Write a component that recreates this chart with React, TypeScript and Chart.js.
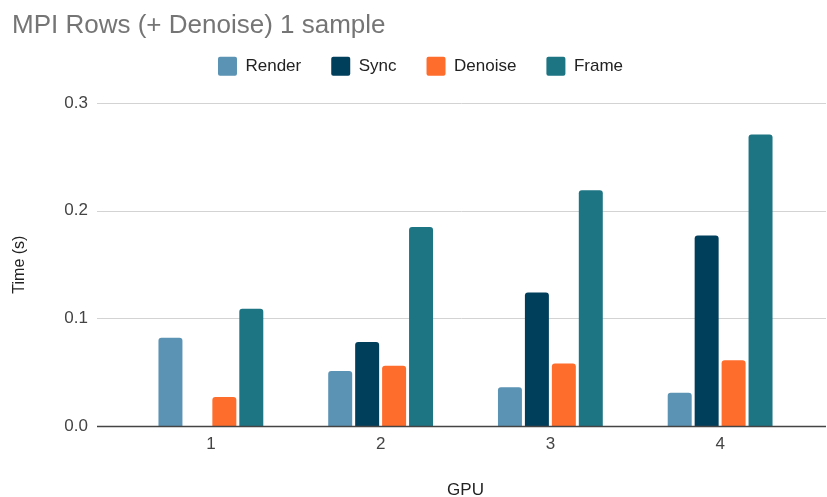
import React, { useEffect, useRef } from "react";
import { Chart, registerables } from "chart.js";

Chart.register(...registerables);

// ---- data ----
const categories = ["1", "2", "3", "4"];
const renderTimes = [0.082, 0.051, 0.036, 0.031];
const syncTimes = [null, 0.078, 0.124, 0.177];
const denoiseTimes = [0.027, 0.056, 0.058, 0.061];
const frameTimes = [0.109, 0.185, 0.219, 0.271];
const seriesNames = ["Render", "Sync", "Denoise", "Frame"];
const seriesColors = ["#5b93b4", "#003f5c", "#ff6d2c", "#1d7584"];
const yTickValues = [0, 0.1, 0.2, 0.3];
const yTickLabels = ["0.0", "0.1", "0.2", "0.3"];
const chartTitle = "MPI Rows (+ Denoise) 1 sample";
const xAxisTitle = "GPU";
const yAxisTitle = "Time (s)";

const FONT = 'Arial, "Liberation Sans", sans-serif';

// gridlines extended slightly beyond the plot area, baseline drawn over bars
const extendedGrid = {
  id: "extendedGrid",
  beforeDatasetsDraw(chart: any) {
    const { ctx, chartArea, scales } = chart;
    const y = scales.y;
    ctx.save();
    ctx.lineWidth = 1;
    ctx.strokeStyle = "#d3d3d3";
    y.ticks.forEach((t: any) => {
      if (t.value === 0) return;
      const py = Math.round(y.getPixelForValue(t.value)) + 0.5;
      ctx.beginPath();
      ctx.moveTo(chartArea.left - 29, py);
      ctx.lineTo(chartArea.right + 21, py);
      ctx.stroke();
    });
    ctx.restore();
  },
  afterDatasetsDraw(chart: any) {
    const { ctx, chartArea, scales } = chart;
    const y = scales.y;
    const py = Math.round(y.getPixelForValue(0)) + 0.5;
    ctx.save();
    ctx.lineWidth = 1.3;
    ctx.strokeStyle = "#444444";
    ctx.beginPath();
    ctx.moveTo(chartArea.left - 29, py);
    ctx.lineTo(chartArea.right + 21, py);
    ctx.stroke();
    ctx.restore();
  },
};

// shift the legend to its place in the reference
const legendShift = {
  id: "legendShift",
  afterLayout(chart: any) {
    const lg = chart.legend;
    if (!lg) return;
    lg.left += 12;
    lg.right += 12;
    lg.top -= 17.5;
    lg.bottom -= 17.5;
  },
};

export default function App() {
  const ref = useRef<HTMLCanvasElement | null>(null);

  useEffect(() => {
    if (!ref.current) return;
    const series = [renderTimes, syncTimes, denoiseTimes, frameTimes];
    const chart = new Chart(ref.current, {
      type: "bar",
      data: {
        labels: categories,
        datasets: series.map((d, i) => ({
          label: seriesNames[i],
          data: d as any,
          backgroundColor: seriesColors[i],
          borderRadius: 3,
          borderSkipped: "start",
          categoryPercentage: 0.635,
          barPercentage: 0.89,
        })),
      },
      options: {
        responsive: false,
        animation: false,
        layout: { padding: { left: 12, right: 22, top: 0, bottom: -2 } },
        plugins: {
          title: {
            display: true,
            text: chartTitle,
            align: "start",
            color: "#757575",
            font: { family: FONT, size: 26, weight: "normal", lineHeight: 1.2 },
            padding: { top: 10, bottom: 3 },
          },
          legend: {
            display: true,
            position: "top",
            align: "center",
            labels: {
              boxWidth: 19,
              boxHeight: 19,
              padding: 30,
              color: "#222222",
              useBorderRadius: true,
              borderRadius: 2,
              font: { family: FONT, size: 17 },
            },
          },
          tooltip: { enabled: false },
        },
        scales: {
          x: {
            grid: { display: false, drawTicks: false },
            border: { display: false },
            ticks: {
              color: "#444444",
              padding: 8,
              font: { family: FONT, size: 17 },
            },
            title: {
              display: true,
              text: xAxisTitle,
              color: "#222222",
              font: { family: FONT, size: 17, lineHeight: 1 },
              padding: 0,
            },
            afterFit(scale: any) {
              scale.height = 73;
            },
          },
          y: {
            min: 0,
            max: 0.3,
            grid: { display: false, drawTicks: false },
            border: { display: false },
            afterBuildTicks(scale: any) {
              scale.ticks = yTickValues.map((v) => ({ value: v }));
            },
            ticks: {
              color: "#444444",
              padding: 38,
              font: { family: FONT, size: 17 },
              callback: (v: any) => {
                const i = yTickValues.findIndex((t) => Math.abs(t - Number(v)) < 1e-9);
                return i >= 0 ? yTickLabels[i] : "";
              },
            },
            title: {
              display: true,
              text: yAxisTitle,
              color: "#222222",
              font: { family: FONT, size: 16, lineHeight: 1 },
              padding: 0,
            },
            afterFit(scale: any) {
              scale.width = 114;
            },
          },
        },
      },
      plugins: [extendedGrid, legendShift],
    });
    return () => chart.destroy();
  }, []);

  return (
    <div style={{ position: "absolute", left: 0, top: 0, width: 827, height: 497, background: "#ffffff" }}>
      <canvas ref={ref} width={827} height={497} style={{ display: "block" }} />
    </div>
  );
}
